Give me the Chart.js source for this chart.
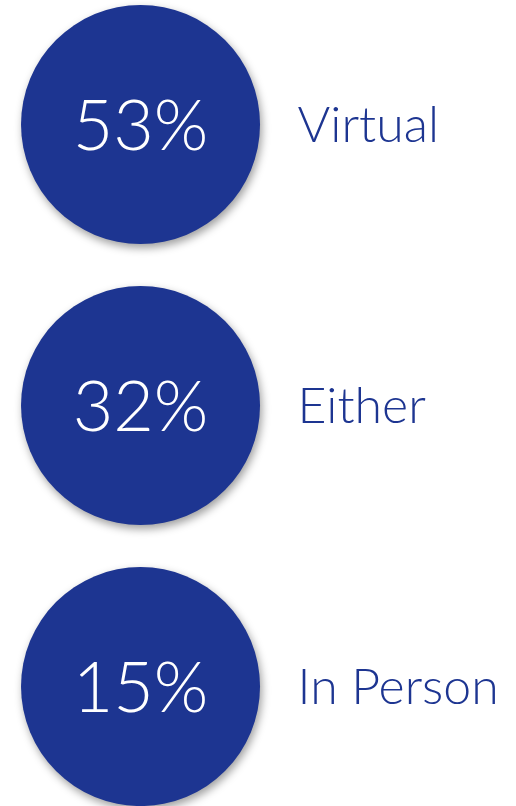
<!DOCTYPE html>
<html>
<head>
<meta charset="utf-8">
<script src="https://cdn.jsdelivr.net/npm/chart.js@4/dist/chart.umd.min.js"></script>
<style>
  html, body { margin: 0; padding: 0; background: #fff; }
  #wrap { width: 516px; height: 806px; }
</style>
</head>
<body>
<div id="wrap"><canvas id="circles"></canvas></div>
<script>
const categories = ["Virtual", "Either", "In Person"];
const shares = [53, 32, 15];

const navy = "#1d3591";

// soft drop shadow under the discs
const discShadow = {
  id: "discShadow",
  beforeDatasetDraw(chart) {
    const ctx = chart.ctx;
    ctx.save();
    ctx.shadowColor = "rgba(0,0,0,0.38)";
    ctx.shadowBlur = 9;
    ctx.shadowOffsetX = 2;
    ctx.shadowOffsetY = 4;
  },
  afterDatasetDraw(chart) {
    chart.ctx.restore();
  }
};

// percentage inside each disc, category name to its right
const discLabels = {
  id: "discLabels",
  afterDatasetsDraw(chart) {
    const ctx = chart.ctx;
    const meta = chart.getDatasetMeta(0);
    ctx.save();
    ctx.textBaseline = "middle";
    meta.data.forEach((pt, i) => {
      ctx.fillStyle = "#ffffff";
      ctx.textAlign = "center";
      ctx.font = "300 70px Lato";
      ctx.fillText(shares[i] + "%", pt.x, pt.y + 3);

      ctx.fillStyle = navy;
      ctx.textAlign = "left";
      ctx.font = "300 50px Lato";
      ctx.fillText(categories[i], pt.x + 157, pt.y + 1);
    });
    ctx.restore();
  }
};

new Chart(document.getElementById("circles"), {
  type: "scatter",
  data: {
    datasets: [{
      data: categories.map((c, i) => ({ x: 0, y: i })),
      pointRadius: 119.5,
      pointHoverRadius: 119.5,
      pointBackgroundColor: navy,
      pointBorderWidth: 0,
      clip: false
    }]
  },
  options: {
    responsive: true,
    maintainAspectRatio: false,
    animation: false,
    layout: { padding: 0, autoPadding: false },
    plugins: { legend: { display: false }, tooltip: { enabled: false } },
    events: [],
    scales: {
      x: { display: false, min: -1, max: 2.672 },
      y: { display: false, reverse: true, min: -0.443, max: 2.425 }
    }
  },
  plugins: [discShadow, discLabels]
});
</script>
</body>
</html>
